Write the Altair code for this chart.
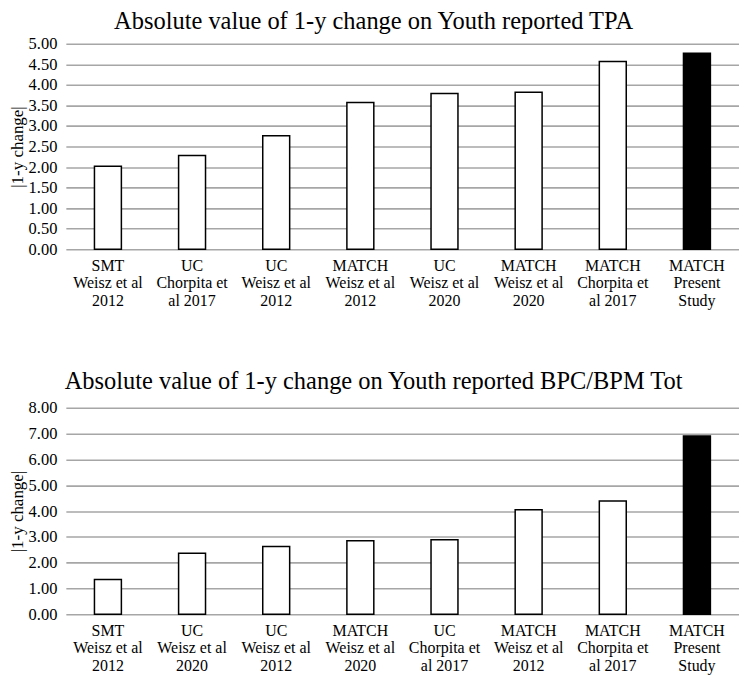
import altair as alt
import pandas as pd

top_title = "Absolute value of 1-y change on Youth reported TPA"
top_labels = ["SMT~Weisz et al~2012", "UC~Chorpita et~al 2017", "UC~Weisz et al~2012",
              "MATCH~Weisz et al~2012", "UC~Weisz et al~2020", "MATCH~Weisz et al~2020",
              "MATCH~Chorpita et~al 2017", "MATCH~Present~Study"]
top_values = [2.02, 2.28, 2.76, 3.57, 3.79, 3.82, 4.57, 4.77]

bot_title = "Absolute value of 1-y change on Youth reported BPC/BPM Tot"
bot_labels = ["SMT~Weisz et al~2012", "UC~Weisz et al~2020", "UC~Weisz et al~2012",
              "MATCH~Weisz et al~2020", "UC~Chorpita et~al 2017", "MATCH~Weisz et al~2012",
              "MATCH~Chorpita et~al 2017", "MATCH~Present~Study"]
bot_values = [1.35, 2.36, 2.63, 2.85, 2.89, 4.05, 4.39, 6.91]

highlight = [0, 0, 0, 0, 0, 0, 0, 1]

FONT = "Liberation Serif"


def panel(labels, values, title, ymax, step, height, offset):
    df = pd.DataFrame({"label": labels, "value": values, "hl": highlight})
    ticks = [round(i * step, 2) for i in range(int(round(ymax / step)) + 1)]
    return alt.Chart(df, title=alt.TitleParams(title, anchor="middle", frame="bounds",
                                               font=FONT, fontSize=24.5, fontWeight="normal",
                                               color="black", offset=offset)).mark_bar(
        stroke="black", strokeWidth=1.5
    ).encode(
        x=alt.X("label:N", sort=labels,
                scale=alt.Scale(paddingInner=0.68, paddingOuter=0.34),
                axis=alt.Axis(title=None, labelAngle=0, domain=False, ticks=False,
                              labelExpr="split(datum.label, '~')", labelFont=FONT,
                              labelFontSize=16, labelLineHeight=17.7, labelPadding=8,
                              labelColor="black", labelBaseline="top")),
        y=alt.Y("value:Q", scale=alt.Scale(domain=[0, ymax], nice=False),
                axis=alt.Axis(title="|1-y change|", values=ticks, format=".2f",
                              domain=False, ticks=False, labelFont=FONT, labelFontSize=16.5,
                              labelColor="black", labelPadding=9, titleFont=FONT,
                              titleFontSize=17, titleFontWeight="normal", titleColor="black",
                              titlePadding=2, gridColor="#a6a6a6", gridWidth=1.6)),
        color=alt.Color("hl:N", scale=alt.Scale(domain=[0, 1], range=["white", "black"]),
                        legend=None),
    ).properties(width=675, height=height)


top = panel(top_labels, top_values, top_title, 5.0, 0.5, 206, 1)
bot = panel(bot_labels, bot_values, bot_title, 8.0, 1.0, 207, 5)

chart = alt.vconcat(top, bot, spacing=60).properties(padding=0).configure_view(stroke=None)

chart.save("out.html", embed_options={"renderer": "svg", "actions": False})
